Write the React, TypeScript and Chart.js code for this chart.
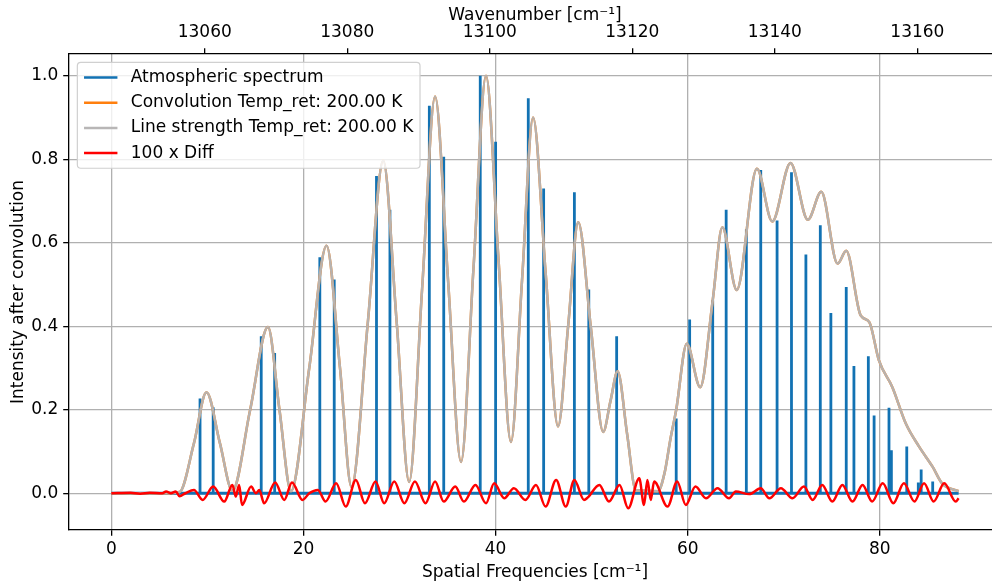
import React, { useEffect, useRef } from 'react';
import { Chart, registerables } from 'chart.js';

Chart.register(...registerables);

// ---- Data (spatial frequency [cm^-1]) ----
// Atmospheric spectrum: discrete lines
const lineSF = [9.23, 10.6, 15.6, 17.0, 21.7, 23.2, 27.6, 29.0, 33.1, 34.6, 38.4, 40.0, 43.4, 45.0, 48.2, 49.7, 52.6, 58.8, 60.2, 62.6, 64.0, 66.1, 67.6, 69.3, 70.8, 72.3, 73.8, 74.9, 76.5, 77.3, 78.8, 79.4, 80.95, 81.2, 82.8, 84.0, 84.3, 85.5];
const lineInt = [0.227, 0.206, 0.376, 0.336, 0.565, 0.512, 0.760, 0.679, 0.928, 0.806, 1.0, 0.842, 0.946, 0.730, 0.721, 0.488, 0.376, 0.179, 0.416, 0.462, 0.679, 0.632, 0.774, 0.653, 0.769, 0.572, 0.642, 0.432, 0.494, 0.305, 0.328, 0.186, 0.205, 0.103, 0.112, 0.026, 0.057, 0.028];
const specStart = 0;
const specEnd = 88.2;

// Line strength / convolution curve
const greySF = [0, 5.5, 7.1, 8.6, 9.9, 11.3, 12.6, 14.45, 16.3, 17.5, 18.7, 20.6, 22.4, 23.8, 25.0, 26.7, 28.3, 29.7, 31.0, 32.35, 33.7, 35.05, 36.4, 37.7, 39.0, 40.3, 41.6, 42.75, 43.9, 45.2, 46.5, 47.55, 48.6, 49.9, 51.2, 51.95, 52.7, 53.7, 54.6, 56.9, 57.6, 58.2, 58.8, 59.9, 61.3, 62.6, 63.6, 65.1, 67.2, 68.8, 70.7, 72.5, 73.9, 75.6, 76.5, 78.0, 78.9, 79.9, 81.3, 82.7, 84.1, 85.5, 86.5, 88.2];
const greyVal = [0, 0, 0.003, 0.12, 0.242, 0.12, 0.006, 0.2, 0.398, 0.2, 0.005, 0.3, 0.593, 0.3, 0.015, 0.41, 0.797, 0.41, 0.027, 0.49, 0.95, 0.51, 0.075, 0.54, 1.0, 0.56, 0.123, 0.51, 0.9, 0.53, 0.16, 0.4, 0.649, 0.4, 0.147, 0.22, 0.292, 0.14, 0.007, 0.005, 0.05, 0.13, 0.2, 0.358, 0.254, 0.462, 0.637, 0.487, 0.777, 0.651, 0.791, 0.655, 0.722, 0.55, 0.581, 0.426, 0.41, 0.318, 0.254, 0.167, 0.111, 0.063, 0.023, 0.005];
const convSF = greySF;
const convVal = greyVal;

// 100 x Diff
const redSF = [0, 2, 3, 4, 5.3, 5.7, 6.2, 6.7, 7.1, 7.7, 8.6, 9.5, 10.6, 11.75, 12.6, 12.95, 13.3, 13.6, 14.55, 15.05, 15.4, 15.9, 17.05, 18.0, 18.8, 19.9, 20.6, 21.5, 22.3, 23.4, 24.4, 25.45, 26.4, 27.5, 28.4, 29.45, 30.5, 31.6, 32.7, 33.7, 34.6, 35.8, 36.7, 37.9, 39.0, 39.85, 40.9, 41.9, 43.1, 44.2, 45.2, 46.3, 47.3, 48.2, 49.2, 49.6, 50.8, 51.8, 52.9, 53.8, 54.95, 55.45, 55.8, 56.15, 56.5, 57.9, 58.9, 59.8, 60.8, 61.9, 63.1, 64.3, 65.0, 66.4, 67.6, 68.5, 69.7, 70.9, 72.1, 73.0, 74.0, 75.05, 76.1, 77.15, 78.2, 79.2, 80.3, 81.4, 82.5, 83.6, 84.6, 85.6, 86.7, 87.9, 88.2];
const redVal = [0, 0.001, -0.001, 0.001, 0, 0.004, 0, 0.004, -0.007, 0, 0.008, -0.016, 0.016, -0.02, 0.02, -0.008, 0.02, -0.028, 0.016, 0, 0.008, -0.024, 0.026, -0.016, 0.026, -0.016, 0, 0.008, -0.02, 0.024, -0.032, 0.032, -0.024, 0.028, -0.024, 0.028, -0.024, 0.028, -0.024, 0.028, -0.02, 0.016, -0.02, 0.02, -0.024, 0.024, -0.012, 0.012, -0.016, 0.02, -0.032, 0.032, -0.032, 0.032, -0.016, -0.01, 0.02, -0.02, 0.02, -0.036, 0.036, -0.028, 0.032, -0.016, 0.028, -0.032, 0.028, -0.028, 0.016, -0.012, 0.012, -0.012, 0.004, -0.002, 0.012, -0.012, 0.012, -0.012, 0.016, -0.016, 0.02, -0.02, 0.02, -0.02, 0.02, -0.02, 0.024, -0.024, 0.024, -0.02, 0.024, -0.02, 0.024, -0.02, -0.012];

// Axes
const X_TICKS = [0, 20, 40, 60, 80];
const Y_TICKS = [0, 0.2, 0.4, 0.6, 0.8, 1.0];
const WN_TICKS = [13060, 13080, 13100, 13120, 13140, 13160];
const X_MIN = -4.41;
const X_MAX = 92.61;
const Y_MIN = -0.088;
const Y_MAX = 1.052;
const WN_AT_ZERO = 13046.9;
const WN_PER_SF = 1.348;

const FONT_FAMILY = "'DejaVu Sans', sans-serif";
const FS = 17;
const BLUE = '#1272b3';
const ORANGE = '#ff7f0e';
const GREY = 'rgba(182,180,180,0.97)';
const RED = '#ff0000';

const toPts = (xs: number[], ys: number[]) => xs.map((x, i) => ({ x, y: ys[i] }));

function spectrumPoints() {
  const pts: { x: number; y: number }[] = [{ x: specStart, y: 0 }];
  lineSF.forEach((p, i) => {
    pts.push({ x: p, y: 0 }, { x: p, y: lineInt[i] }, { x: p, y: 0 });
  });
  pts.push({ x: specEnd, y: 0 });
  return pts;
}

const legendPlugin = {
  id: 'mplLegend',
  afterDraw(chart: any) {
    const { ctx, chartArea } = chart;
    const ds = chart.data.datasets;
    ctx.save();
    ctx.font = `${FS}px ${FONT_FAMILY}`;
    const maxW = Math.max(...ds.map((d: any) => ctx.measureText(d.label).width));
    const lf = 16.7;
    const pad = 0.4 * lf;
    const handle = 2 * lf;
    const textPad = 0.8 * lf;
    const rowH = 1.01 * lf;
    const spacing = 0.5 * lf;
    const x0 = chartArea.left + 0.5 * lf;
    const y0 = chartArea.top + 0.5 * lf;
    const w = pad + handle + textPad + maxW + pad;
    const h = 2 * pad + ds.length * rowH + (ds.length - 1) * spacing;
    const r = 3.5;
    ctx.beginPath();
    ctx.moveTo(x0 + r, y0);
    ctx.lineTo(x0 + w - r, y0);
    ctx.arcTo(x0 + w, y0, x0 + w, y0 + r, r);
    ctx.lineTo(x0 + w, y0 + h - r);
    ctx.arcTo(x0 + w, y0 + h, x0 + w - r, y0 + h, r);
    ctx.lineTo(x0 + r, y0 + h);
    ctx.arcTo(x0, y0 + h, x0, y0 + h - r, r);
    ctx.lineTo(x0, y0 + r);
    ctx.arcTo(x0, y0, x0 + r, y0, r);
    ctx.closePath();
    ctx.fillStyle = 'rgba(255,255,255,0.8)';
    ctx.fill();
    ctx.strokeStyle = '#d0d0d0';
    ctx.lineWidth = 1.2;
    ctx.stroke();
    ds.forEach((d: any, i: number) => {
      const cy = y0 + pad + i * (rowH + spacing) + rowH / 2;
      ctx.beginPath();
      ctx.moveTo(x0 + pad, cy);
      ctx.lineTo(x0 + pad + handle, cy);
      ctx.strokeStyle = d.borderColor;
      ctx.lineWidth = 2.5;
      ctx.stroke();
      ctx.fillStyle = '#000';
      ctx.textBaseline = 'middle';
      ctx.textAlign = 'left';
      ctx.fillText(d.label, x0 + pad + handle + textPad, cy);
    });
    ctx.restore();
  },
};

export default function App() {
  const ref = useRef<HTMLCanvasElement>(null);
  useEffect(() => {
    const canvas = ref.current;
    if (!canvas) return;
    const font = { family: FONT_FAMILY, size: FS };
    const gridCommon = { color: '#b0b0b0', lineWidth: 1.3, tickColor: '#000', tickLength: 5.8, tickWidth: 1.3 };
    const chart = new Chart(canvas, {
      type: 'line',
      data: {
        datasets: [
          { label: 'Atmospheric spectrum', data: spectrumPoints(), borderColor: BLUE, backgroundColor: BLUE, borderWidth: 2.8, pointRadius: 0, tension: 0, borderJoinStyle: 'bevel', order: 3 },
          { label: 'Convolution Temp_ret: 200.00 K', data: toPts(convSF, convVal), borderColor: ORANGE, backgroundColor: ORANGE, borderWidth: 2.5, pointRadius: 0, cubicInterpolationMode: 'monotone', order: 2 },
          { label: 'Line strength Temp_ret: 200.00 K', data: toPts(greySF, greyVal), borderColor: GREY, backgroundColor: GREY, borderWidth: 2.5, pointRadius: 0, cubicInterpolationMode: 'monotone', order: 1 },
          { label: '100 x Diff', data: toPts(redSF, redVal), borderColor: RED, backgroundColor: RED, borderWidth: 2.5, pointRadius: 0, cubicInterpolationMode: 'monotone', order: 0 },
        ] as any,
      },
      options: {
        responsive: false,
        maintainAspectRatio: false,
        animation: false,
        devicePixelRatio: 1,
        layout: { padding: { left: 0, right: 11, top: 0, bottom: 0 } },
        plugins: { legend: { display: false }, tooltip: { enabled: false } },
        scales: {
          x: {
            type: 'linear', position: 'bottom', min: X_MIN, max: X_MAX, fullSize: false,
            afterBuildTicks: (s: any) => { s.ticks = X_TICKS.map((v) => ({ value: v })); },
            afterFit: (s: any) => { s.height = 55; },
            ticks: { font, color: '#000', padding: 4, maxRotation: 0, callback: (v: any) => String(v) },
            grid: gridCommon,
            border: { display: true, color: '#000', width: 1.3 },
            title: { display: true, text: 'Spatial Frequencies [cm⁻¹]', font, color: '#000', padding: { top: 0, bottom: 2 } },
          },
          x2: {
            type: 'linear', position: 'top', fullSize: false,
            min: WN_AT_ZERO + X_MIN * WN_PER_SF, max: WN_AT_ZERO + X_MAX * WN_PER_SF,
            afterBuildTicks: (s: any) => { s.ticks = WN_TICKS.map((v) => ({ value: v })); },
            afterFit: (s: any) => { s.height = 54; },
            ticks: { font, color: '#000', padding: 5, maxRotation: 0, callback: (v: any) => String(v) },
            grid: { ...gridCommon, drawOnChartArea: false },
            border: { display: true, color: '#000', width: 1.3 },
            title: { display: true, text: 'Wavenumber [cm⁻¹]', font, color: '#000', padding: { top: 5, bottom: 0 } },
          },
          y: {
            type: 'linear', position: 'left', min: Y_MIN, max: Y_MAX,
            afterBuildTicks: (s: any) => { s.ticks = Y_TICKS.map((v) => ({ value: v })); },
            afterFit: (s: any) => { s.width = 69; },
            ticks: { font, color: '#000', padding: 5, callback: (v: any) => Number(v).toFixed(1) },
            grid: gridCommon,
            border: { display: true, color: '#000', width: 1.3 },
            title: { display: true, text: 'Intensity after convolution', font, color: '#000', padding: { top: 8, bottom: 0 } },
          },
        } as any,
      },
      plugins: [legendPlugin],
    } as any);
    return () => chart.destroy();
  }, []);
  return (
    <div style={{ position: 'fixed', left: 0, top: 0, width: 992, height: 585, overflow: 'hidden', background: '#fff' }}>
      <canvas ref={ref} width={1012} height={585} style={{ display: 'block', width: 1012, height: 585 }} />
    </div>
  );
}
